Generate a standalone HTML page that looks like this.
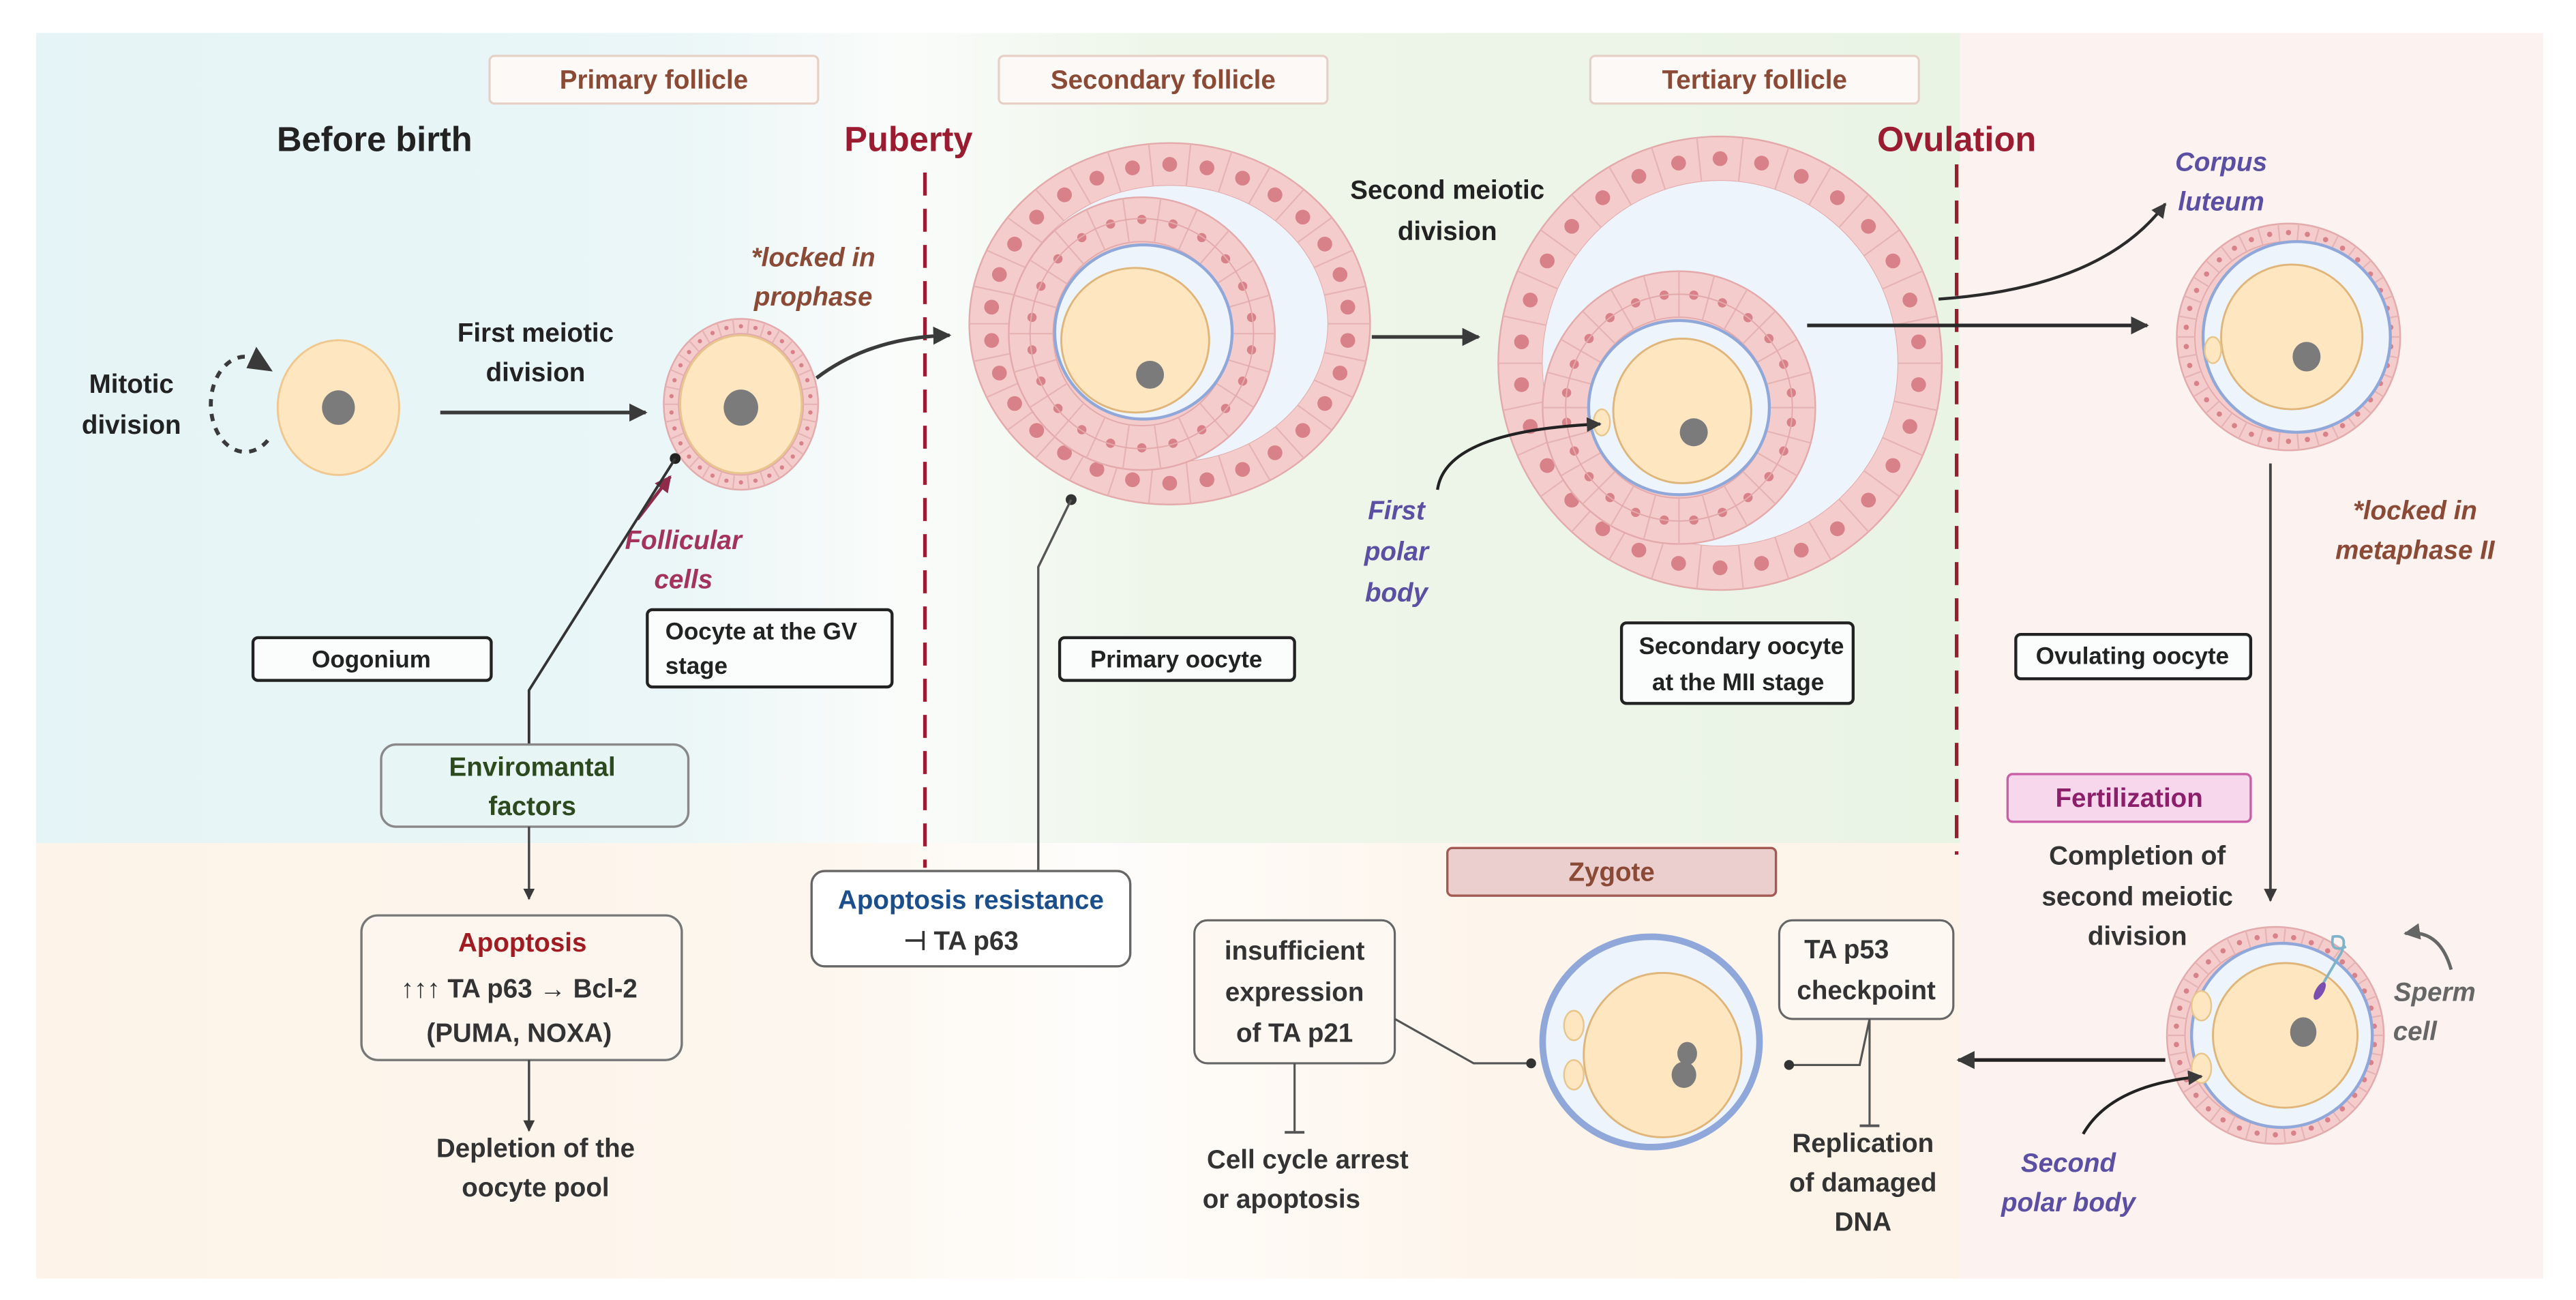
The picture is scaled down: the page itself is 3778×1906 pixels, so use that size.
<!DOCTYPE html>
<html><head><meta charset="utf-8">
<style>
html,body{margin:0;padding:0;background:#fff;}
svg{display:block;}
text{font-family:"Liberation Sans",Arial,sans-serif;font-weight:bold;}
</style></head>
<body>
<svg id="s" width="3778" height="1906" viewBox="0 0 1568 791" xmlns="http://www.w3.org/2000/svg">
<defs>
<linearGradient id="topg" x1="0" x2="1" y1="0" y2="0">
<stop offset="0" stop-color="#e5f4f6"/><stop offset="0.33" stop-color="#eaf6f7"/>
<stop offset="0.45" stop-color="#fafcfa"/><stop offset="0.58" stop-color="#eef6ea"/>
<stop offset="1" stop-color="#eaf4e5"/></linearGradient>
<linearGradient id="botg" x1="0" x2="1" y1="0" y2="0">
<stop offset="0" stop-color="#fdf3e8"/><stop offset="0.4" stop-color="#fdf6ee"/>
<stop offset="0.55" stop-color="#fefdfb"/><stop offset="0.75" stop-color="#fdf5ec"/>
<stop offset="1" stop-color="#fdf3e8"/></linearGradient>
<marker id="ar" viewBox="0 0 10 10" refX="9" refY="5" markerWidth="5" markerHeight="5" orient="auto"><path d="M0,0 L10,5 L0,10 z" fill="#3a3a3a"/></marker>
<marker id="arr" viewBox="0 0 10 10" refX="9" refY="5" markerWidth="5" markerHeight="5" orient="auto"><path d="M0,0 L10,5 L0,10 z" fill="#8e2a4a"/></marker>
<marker id="arg" viewBox="0 0 10 10" refX="9" refY="5" markerWidth="5" markerHeight="5" orient="auto"><path d="M0,0 L10,5 L0,10 z" fill="#666"/></marker>
</defs>
<rect x="22" y="20" width="1171" height="493" fill="url(#topg)"/>
<rect x="22" y="513" width="1171" height="265" fill="url(#botg)"/>
<rect x="1193" y="20" width="355" height="758" fill="#fcf2f0"/>

<line x1="563" y1="105" x2="563" y2="528" stroke="#9b1b30" stroke-width="2.2" stroke-dasharray="14,8"/>
<line x1="1191" y1="100" x2="1191" y2="520" stroke="#9b1b30" stroke-width="2.2" stroke-dasharray="14,8"/>

<g stroke="#e6cfc5" stroke-width="1.3" fill="#fdf9f6">
<rect x="298" y="34" width="200" height="29" rx="3"/>
<rect x="608" y="34" width="200" height="29" rx="3"/>
<rect x="968" y="34" width="200" height="29" rx="3"/>
</g>
<g fill="#8b4a35" font-size="16" text-anchor="middle">
<text x="398" y="54">Primary follicle</text>
<text x="708" y="54">Secondary follicle</text>
<text x="1068" y="54">Tertiary follicle</text>
</g>
<text x="228" y="92" font-size="21" text-anchor="middle" fill="#222">Before birth</text>
<text x="553" y="92" font-size="21" text-anchor="middle" fill="#9b1b30">Puberty</text>
<text x="1191" y="92" font-size="21" text-anchor="middle" fill="#9b1b30">Ovulation</text>

<g id="cells"></g>

<ellipse cx="206" cy="248" rx="37" ry="41" fill="#fde6c0" stroke="#f0c88e" stroke-width="1.2"/>
<ellipse cx="206" cy="248" rx="10" ry="10.5" fill="#7b7b7b"/>
<path d="M163,268 A21,29 0 1 1 150,217" fill="none" stroke="#3a3a3a" stroke-width="2.4" stroke-dasharray="4.5,4.5"/>
<path d="M156,211 L166,226 L150,224 z" fill="#3a3a3a"/>
<text font-size="16" fill="#222" text-anchor="middle"><tspan x="80" y="239">Mitotic</tspan><tspan x="80" y="264">division</tspan></text>

<line x1="268" y1="251" x2="393" y2="251" stroke="#3a3a3a" stroke-width="2.2" marker-end="url(#ar)"/>
<text font-size="16" fill="#222" text-anchor="middle"><tspan x="326" y="208">First meiotic</tspan><tspan x="326" y="232">division</tspan></text>

<text font-size="16" fill="#8b4a35" font-style="italic" font-weight="normal" text-anchor="middle"><tspan x="495" y="162">*locked in</tspan><tspan x="495" y="186">prophase</tspan></text>
<path d="M497,230 Q530,205 578,204" fill="none" stroke="#3a3a3a" stroke-width="2.2" marker-end="url(#ar)"/>

<line x1="388" y1="316" x2="408" y2="290" stroke="#8e2a4a" stroke-width="2" marker-end="url(#arr)"/>
<text font-size="16" fill="#a3335a" font-style="italic" text-anchor="middle"><tspan x="416" y="334">Follicular</tspan><tspan x="416" y="358">cells</tspan></text>

<line x1="835" y1="205" x2="900" y2="205" stroke="#3a3a3a" stroke-width="2.2" marker-end="url(#ar)"/>
<text font-size="16" fill="#222" text-anchor="middle"><tspan x="881" y="121">Second meiotic</tspan><tspan x="881" y="146">division</tspan></text>

<path d="M875,298 Q880,262 974,258" fill="none" stroke="#222" stroke-width="1.8" marker-end="url(#ar)"/>
<text font-size="16" fill="#5b4fa3" font-style="italic" text-anchor="middle"><tspan x="850" y="316">First</tspan><tspan x="850" y="341">polar</tspan><tspan x="850" y="366">body</tspan></text>

<line x1="1100" y1="198" x2="1307" y2="198" stroke="#2a2a2a" stroke-width="2.2" marker-end="url(#ar)"/>
<path d="M1180,182 Q1280,175 1318,124" fill="none" stroke="#2a2a2a" stroke-width="1.8" marker-end="url(#ar)"/>
<text font-size="16" fill="#5a4fa3" font-style="italic" text-anchor="middle"><tspan x="1352" y="104">Corpus</tspan><tspan x="1352" y="128">luteum</tspan></text>
<text font-size="16" fill="#8b4a35" font-style="italic" font-weight="normal" text-anchor="middle"><tspan x="1470" y="316">*locked in</tspan><tspan x="1470" y="340">metaphase II</tspan></text>
<line x1="1382" y1="282" x2="1382" y2="548" stroke="#444" stroke-width="1.6" marker-end="url(#ar)"/>

<g fill="#fbfdfd" stroke="#222" stroke-width="1.8">
<rect x="154" y="388" width="145" height="26" rx="3"/>
<rect x="394" y="371" width="149" height="47" rx="3"/>
<rect x="645" y="388" width="143" height="26" rx="3"/>
<rect x="987" y="379" width="141" height="49" rx="3"/>
<rect x="1227" y="386" width="143" height="27" rx="3"/>
</g>
<g font-size="14.5" fill="#222">
<text x="226" y="406" text-anchor="middle">Oogonium</text>
<text x="405" y="389">Oocyte at the GV</text>
<text x="405" y="410">stage</text>
<text x="716" y="406" text-anchor="middle">Primary oocyte</text>
<text x="1060" y="398" text-anchor="middle">Secondary oocyte</text>
<text x="1058" y="420" text-anchor="middle">at the MII stage</text>
<text x="1298" y="404" text-anchor="middle">Ovulating oocyte</text>
</g>

<circle cx="411" cy="279" r="3.3" fill="#222"/>
<polyline points="411,279 322,420 322,453" fill="none" stroke="#333" stroke-width="1.6"/>
<rect x="232" y="453" width="187" height="50" rx="9" fill="#e8f5f5" stroke="#888" stroke-width="1.4"/>
<text font-size="16" fill="#2c4a1e" text-anchor="middle"><tspan x="324" y="472">Enviromantal</tspan><tspan x="324" y="496">factors</tspan></text>
<line x1="322" y1="503" x2="322" y2="547" stroke="#444" stroke-width="1.4" marker-end="url(#ar)"/>
<rect x="220" y="557" width="195" height="88" rx="10" fill="#fdf6ee" stroke="#777" stroke-width="1.4"/>
<text x="318" y="579" font-size="16" fill="#a01c22" text-anchor="middle">Apoptosis</text>
<text x="316" y="607" font-size="16" fill="#333" text-anchor="middle">↑↑↑ TA p63 → Bcl-2</text>
<text x="316" y="634" font-size="16" fill="#333" text-anchor="middle">(PUMA, NOXA)</text>
<line x1="322" y1="645" x2="322" y2="688" stroke="#444" stroke-width="1.4" marker-end="url(#ar)"/>
<text font-size="16" fill="#333" text-anchor="middle"><tspan x="326" y="704">Depletion of the</tspan><tspan x="326" y="728">oocyte pool</tspan></text>

<circle cx="652" cy="304" r="3.3" fill="#333"/>
<polyline points="652,304 632,345 632,530" fill="none" stroke="#555" stroke-width="1.4"/>
<rect x="494" y="530" width="194" height="58" rx="8" fill="#fff" stroke="#666" stroke-width="1.4"/>
<text x="591" y="553" font-size="16" fill="#1b4f8c" text-anchor="middle">Apoptosis resistance</text>
<text x="585" y="578" font-size="16" fill="#333" text-anchor="middle">⊣ TA p63</text>

<rect x="881" y="516" width="200" height="29" rx="3" fill="#ebcfcf" stroke="#a35a52" stroke-width="1.4"/>
<text x="981" y="536" font-size="16" fill="#8b4a35" text-anchor="middle">Zygote</text>
<rect x="727" y="560" width="122" height="87" rx="8" fill="#fdf8f2" stroke="#666" stroke-width="1.3"/>
<text font-size="16" fill="#333" text-anchor="middle"><tspan x="788" y="584">insufficient</tspan><tspan x="788" y="609">expression</tspan><tspan x="788" y="634">of TA p21</tspan></text>
<line x1="788" y1="647" x2="788" y2="689" stroke="#555" stroke-width="1.3"/>
<line x1="782" y1="689" x2="794" y2="689" stroke="#555" stroke-width="1.6"/>
<text font-size="16" fill="#333" text-anchor="middle"><tspan x="796" y="711">Cell cycle arrest</tspan><tspan x="780" y="735">or apoptosis</tspan></text>
<polyline points="849,620 897,647 932,647" fill="none" stroke="#555" stroke-width="1.3"/>
<circle cx="932" cy="647" r="3" fill="#333"/>

<rect x="1083" y="560" width="106" height="60" rx="8" fill="#fdf8f2" stroke="#666" stroke-width="1.3"/>
<text font-size="16" fill="#333" text-anchor="middle"><tspan x="1124" y="583">TA p53</tspan><tspan x="1136" y="608">checkpoint</tspan></text>
<polyline points="1138,620 1132,648 1089,648" fill="none" stroke="#555" stroke-width="1.3"/>
<circle cx="1089" cy="648" r="3" fill="#333"/>
<line x1="1138" y1="620" x2="1138" y2="685" stroke="#555" stroke-width="1.3"/>
<line x1="1132" y1="685" x2="1144" y2="685" stroke="#555" stroke-width="1.6"/>
<text font-size="16" fill="#333" text-anchor="middle"><tspan x="1134" y="701">Replication</tspan><tspan x="1134" y="725">of damaged</tspan><tspan x="1134" y="749">DNA</tspan></text>

<rect x="1222" y="471" width="148" height="29" rx="3" fill="#f7d7ec" stroke="#c95fa6" stroke-width="1.4"/>
<text x="1296" y="491" font-size="16" fill="#8b1f6a" text-anchor="middle">Fertilization</text>
<text font-size="16" fill="#333" text-anchor="middle"><tspan x="1301" y="526">Completion of</tspan><tspan x="1301" y="551">second meiotic</tspan><tspan x="1301" y="575">division</tspan></text>
<line x1="1318" y1="645" x2="1192" y2="645" stroke="#222" stroke-width="2.2" marker-end="url(#ar)"/>
<path d="M1492,590 Q1485,565 1464,568" fill="none" stroke="#666" stroke-width="2" marker-end="url(#arg)"/>
<text font-size="16" fill="#666" font-style="italic" text-anchor="middle"><tspan x="1482" y="609">Sperm</tspan><tspan x="1470" y="633">cell</tspan></text>
<path d="M1268,690 Q1285,660 1340,655" fill="none" stroke="#222" stroke-width="1.8" marker-end="url(#ar)"/>
<text font-size="16" fill="#5b4fa3" font-style="italic" text-anchor="middle"><tspan x="1259" y="713">Second</tspan><tspan x="1259" y="737">polar body</tspan></text>
</svg>
<script>
var NS="http://www.w3.org/2000/svg",G=document.getElementById("cells");
function el(t,a){var e=document.createElementNS(NS,t);for(var k in a)e.setAttribute(k,a[k]);G.appendChild(e);return e;}
function ring(cx,cy,rx,ry,w,n,dr,fill){
  el("ellipse",{cx:cx,cy:cy,rx:rx,ry:ry,fill:fill||"#f3cccb",stroke:"#e3a9ab","stroke-width":1});
  el("ellipse",{cx:cx,cy:cy,rx:rx-w,ry:ry-w,fill:"none",stroke:"#e3a9ab","stroke-width":0.8});
  for(var i=0;i<n;i++){var a=2*Math.PI*i/n,c=Math.cos(a),s=Math.sin(a);
    el("line",{x1:cx+(rx-w)*c,y1:cy+(ry-w)*s,x2:cx+rx*c,y2:cy+ry*s,stroke:"#e6b3b4","stroke-width":0.9});
    var b=a+Math.PI/n;el("circle",{cx:cx+(rx-w/2)*Math.cos(b),cy:cy+(ry-w/2)*Math.sin(b),r:dr,fill:"#d98189"});}
}
function E(cx,cy,rx,ry,f,s,sw){el("ellipse",{cx:cx,cy:cy,rx:rx,ry:ry,fill:f,stroke:s||"none","stroke-width":sw||1});}
ring(451,246,47,52,9,30,1.3);
E(451,246,37,42,"#fde6c0","#e8c58c",1.2);E(451,248,10.5,11,"#7b7b7b");
ring(712,197,122,110,26,30,4.5);
E(712,197,96,84,"#eef4fb");
ring(695,203,81,83,27,22,2.8);
el("ellipse",{cx:695,cy:203,rx:68,ry:70,fill:"none",stroke:"#e3a9ab","stroke-width":0.8});
E(696,202,54,53,"#eef4fb","#8fa7d9",1.8);
E(691,207,45,44,"#fde6c0","#e0b57a",1.2);E(700,228,8.5,8.5,"#7b7b7b");
ring(1047,221,135,138,27,30,4.5);
E(1047,221,108,111,"#eef4fb");
ring(1022,248,83,83,28,24,2.8);
el("ellipse",{cx:1022,cy:248,rx:69,ry:69,fill:"none",stroke:"#e3a9ab","stroke-width":0.8});
E(1022,248,55,53,"#eef4fb","#8fa7d9",1.8);
E(1024,250,42,44,"#fde6c0","#e0b57a",1.2);E(975,257,5,8,"#fde6c0","#e8c58c");
E(1031,263,8.5,8.5,"#7b7b7b");
ring(1393,205,68,69,11,34,1.6);
E(1398,205,57,58,"#eef4fb","#8fa7d9",1.8);
E(1395,205,43,44,"#fde6c0","#e0b57a",1.2);E(1347,213,5,8,"#fde6c0","#e8c58c");E(1404,217,8.5,9,"#7b7b7b");
E(1005,634,66,64,"#eef4fb","#8fa7d9",4);
E(1012,642,48,50,"#fde6c0","#e0b57a",1.2);
E(958,624,6,9,"#fde6c0","#e8c58c");E(958,654,6,9,"#fde6c0","#e8c58c");
E(1027,641,6,7,"#7b7b7b");E(1025,654,7.5,8,"#7b7b7b");
ring(1385,630,66,66,11,34,1.6);
E(1389,630,55,56,"#eef4fb","#8fa7d9",1.8);
E(1391,630,44,44,"#fde6c0","#e0b57a",1.2);
E(1340,612,6,9,"#fde6c0","#e8c58c");E(1340,650,6,9,"#fde6c0","#e8c58c");E(1402,628,8,9,"#7b7b7b");
el("path",{d:"M1412,602 Q1420,588 1425,580 Q1430,568 1420,570 Q1418,580 1428,576",fill:"none",stroke:"#7fb3c9","stroke-width":1.6});
el("ellipse",{cx:1412,cy:603,rx:2.5,ry:6,fill:"#7a4fb0",transform:"rotate(30 1412 603)"});
</script>
</body></html>
